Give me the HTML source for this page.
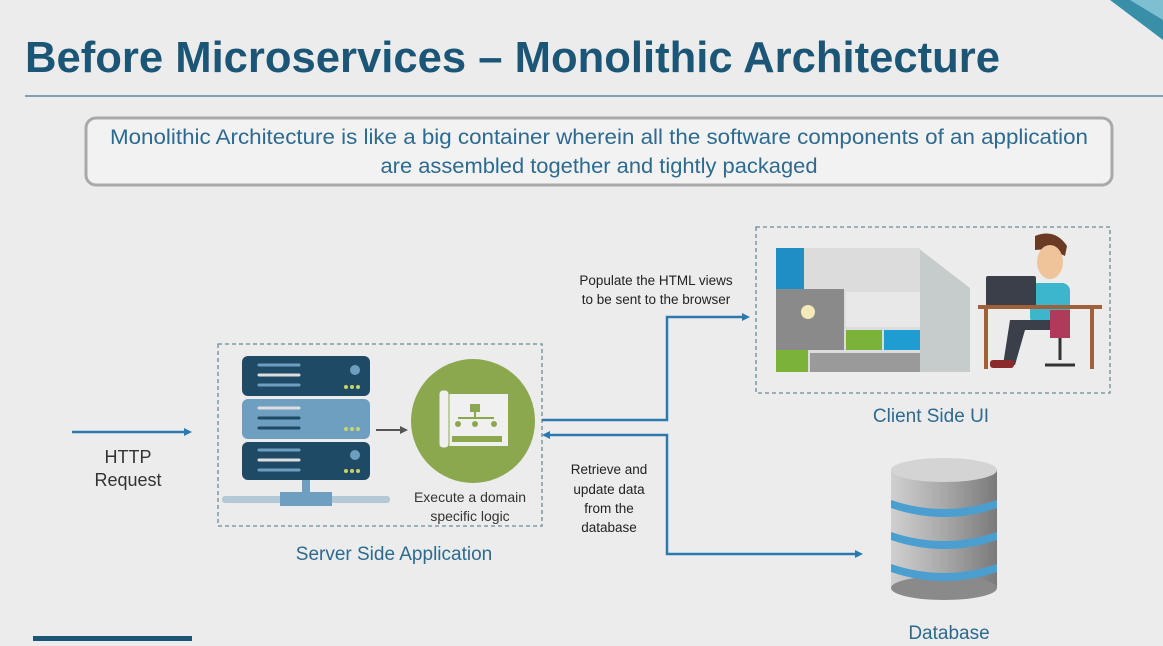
<!DOCTYPE html>
<html><head><meta charset="utf-8"><style>
body{margin:0;width:1163px;height:641px;overflow:hidden;background:#ececec;font-family:"Liberation Sans","DejaVu Sans",sans-serif}
</style></head><body>
<svg width="1163" height="641" viewBox="0 0 1163 641" xmlns="http://www.w3.org/2000/svg">
<defs><linearGradient id="g" x1="0" x2="1"><stop offset="0" stop-color="#d0d0d0"/><stop offset="0.5" stop-color="#a8a8a8"/><stop offset="1" stop-color="#7a7a7a"/></linearGradient></defs>
<rect width="1163" height="641" fill="#ececec"/>
<polygon points="1110,0 1163,0 1163,40" fill="#3a8fa8"/>
<polygon points="1130,0 1163,0 1163,20" fill="#7ec0d2"/>
<text x="25" y="72" font-size="44" font-weight="bold" fill="#1c5677" textLength="975" lengthAdjust="spacingAndGlyphs">Before Microservices – Monolithic Architecture</text>
<line x1="25" y1="96" x2="1163" y2="96" stroke="#5a86a8" stroke-width="1.5"/>
<rect x="86" y="118" width="1026" height="67" rx="10" fill="#f2f2f2" stroke="#a9a9a9" stroke-width="3"/>
<text x="599" y="144" font-size="21" fill="#2c6a90" text-anchor="middle" textLength="978" lengthAdjust="spacingAndGlyphs">Monolithic Architecture is like a big container wherein all the software components of an application</text>
<text x="599" y="173" font-size="21" fill="#2c6a90" text-anchor="middle" textLength="437" lengthAdjust="spacingAndGlyphs">are assembled together and tightly packaged</text>

<line x1="72" y1="432" x2="185" y2="432" stroke="#2a7ab0" stroke-width="2.5"/>
<polygon points="192,432 184,428 184,436" fill="#2a7ab0"/>
<text x="128" y="463" font-size="18" fill="#333" text-anchor="middle">HTTP</text>
<text x="128" y="486" font-size="18" fill="#333" text-anchor="middle">Request</text>

<rect x="218" y="344" width="324" height="182" fill="none" stroke="#6a8a96" stroke-width="1.3" stroke-dasharray="4,3"/>
<rect x="242" y="356" width="128" height="40" rx="6" fill="#1f4a66"/>
<rect x="242" y="399" width="128" height="40" rx="6" fill="#6e9fc1"/>
<rect x="242" y="442" width="128" height="38" rx="6" fill="#1f4a66"/>
<g stroke-width="3" stroke-linecap="round">
<line x1="259" y1="365" x2="299" y2="365" stroke="#6e9fc1"/><line x1="259" y1="375" x2="299" y2="375" stroke="#ddd"/><line x1="259" y1="385" x2="299" y2="385" stroke="#6e9fc1"/>
<line x1="259" y1="408" x2="299" y2="408" stroke="#ddd"/><line x1="259" y1="418" x2="299" y2="418" stroke="#1f4a66"/><line x1="259" y1="428" x2="299" y2="428" stroke="#1f4a66"/>
<line x1="259" y1="450" x2="299" y2="450" stroke="#6e9fc1"/><line x1="259" y1="460" x2="299" y2="460" stroke="#ddd"/><line x1="259" y1="470" x2="299" y2="470" stroke="#6e9fc1"/>
</g>
<circle cx="355" cy="370" r="5" fill="#6e9fc1"/><circle cx="355" cy="455" r="5" fill="#6e9fc1"/>
<g fill="#c9d36a"><circle cx="346" cy="387" r="2"/><circle cx="352" cy="387" r="2"/><circle cx="358" cy="387" r="2"/><circle cx="346" cy="429" r="2"/><circle cx="352" cy="429" r="2"/><circle cx="358" cy="429" r="2"/><circle cx="346" cy="471" r="2"/><circle cx="352" cy="471" r="2"/><circle cx="358" cy="471" r="2"/></g>
<rect x="302" y="480" width="8" height="14" fill="#6e9fc1"/>
<rect x="222" y="496" width="168" height="7" rx="3" fill="#b5c8d6"/>
<rect x="280" y="492" width="52" height="14" fill="#6e9fc1"/>
<line x1="376" y1="430" x2="400" y2="430" stroke="#555" stroke-width="2"/>
<polygon points="408,430 400,426 400,434" fill="#555"/>
<circle cx="473" cy="421" r="62" fill="#8ba84e"/>
<rect x="448" y="394" width="60" height="52" fill="#f0f0f0"/>
<rect x="439" y="390" width="10" height="58" rx="4" fill="#f0f0f0" stroke="#8ba84e" stroke-width="1"/>
<rect x="470" y="404" width="10" height="8" fill="#8ba84e"/>
<line x1="475" y1="412" x2="475" y2="418" stroke="#8ba84e" stroke-width="2"/>
<line x1="458" y1="418" x2="494" y2="418" stroke="#8ba84e" stroke-width="2"/>
<circle cx="458" cy="424" r="3" fill="#8ba84e"/><circle cx="475" cy="424" r="3" fill="#8ba84e"/><circle cx="494" cy="424" r="3" fill="#8ba84e"/>
<rect x="452" y="436" width="50" height="6" fill="#8ba84e"/>
<text x="470" y="502" font-size="14" fill="#333" text-anchor="middle">Execute a domain</text>
<text x="470" y="521" font-size="14" fill="#333" text-anchor="middle">specific logic</text>
<text x="394" y="560" font-size="19" fill="#2c6a90" text-anchor="middle">Server Side Application</text>

<polyline points="542,420 667,420 667,317 742,317" fill="none" stroke="#2a7ab0" stroke-width="2.5"/>
<polygon points="750,317 742,313 742,321" fill="#2a7ab0"/>
<polyline points="550,435 667,435 667,554 855,554" fill="none" stroke="#2a7ab0" stroke-width="2.5"/>
<polygon points="542,435 550,431 550,439" fill="#2a7ab0"/>
<polygon points="863,554 855,550 855,558" fill="#2a7ab0"/>
<text x="656" y="285" font-size="13.5" fill="#222" text-anchor="middle">Populate the HTML views</text>
<text x="656" y="304" font-size="13.5" fill="#222" text-anchor="middle">to be sent to the browser</text>
<text x="609" y="474" font-size="13.5" fill="#222" text-anchor="middle">Retrieve and</text>
<text x="609" y="494" font-size="13.5" fill="#222" text-anchor="middle">update data</text>
<text x="609" y="513" font-size="13.5" fill="#222" text-anchor="middle">from the</text>
<text x="609" y="532" font-size="13.5" fill="#222" text-anchor="middle">database</text>

<rect x="756" y="227" width="354" height="166" fill="none" stroke="#6a8a96" stroke-width="1.3" stroke-dasharray="4,3"/>
<polygon points="918,248 970,288 970,372 918,372" fill="#c6cccc"/>
<rect x="776" y="248" width="144" height="124" fill="#dcdcdc"/>
<rect x="776" y="248" width="28" height="41" fill="#1f8ec4"/>
<rect x="776" y="289" width="68" height="61" fill="#8a8a8a"/>
<circle cx="808" cy="312" r="7" fill="#f4e9b8"/>
<rect x="846" y="292" width="74" height="35" fill="#e8e8e8"/>
<rect x="846" y="330" width="36" height="20" fill="#7ab23a"/>
<rect x="884" y="330" width="36" height="20" fill="#1f9cd2"/>
<rect x="776" y="350" width="32" height="22" fill="#7ab23a"/>
<rect x="810" y="353" width="110" height="19" fill="#9a9a9a"/>
<path d="M1035 236 q20 -8 32 10 l-2 10 q-15 -8 -30 -6 z" fill="#6a3a24"/>
<ellipse cx="1050" cy="262" rx="13" ry="17" fill="#f0c49a"/>
<rect x="1030" y="283" width="40" height="42" rx="8" fill="#3bb6cc"/>
<rect x="986" y="276" width="50" height="30" rx="2" fill="#3a3f4a"/>
<rect x="978" y="305" width="124" height="4" fill="#a0613a"/>
<rect x="984" y="309" width="4" height="60" fill="#a0613a"/><rect x="1090" y="309" width="4" height="60" fill="#a0613a"/>
<path d="M1010 320 h55 v10 h-40 l-10 35 h-12 z" fill="#3a3f4a"/>
<rect x="1050" y="310" width="20" height="28" fill="#b03a5a"/>
<line x1="1060" y1="338" x2="1060" y2="360" stroke="#333" stroke-width="3"/>
<line x1="1045" y1="365" x2="1075" y2="365" stroke="#333" stroke-width="3"/>
<rect x="990" y="360" width="24" height="8" rx="3" fill="#8a2a2a"/>
<text x="931" y="422" font-size="19" fill="#2c6a90" text-anchor="middle">Client Side UI</text>

<rect x="891" y="470" width="106" height="118" fill="url(#g)"/>
<ellipse cx="944" cy="588" rx="53" ry="12" fill="#8a8a8a"/>
<path d="M891 500 q53 18 106 0 v8 q-53 18 -106 0z" fill="#4a9fd0"/>
<path d="M891 532 q53 18 106 0 v8 q-53 18 -106 0z" fill="#4a9fd0"/>
<path d="M891 564 q53 18 106 0 v8 q-53 18 -106 0z" fill="#4a9fd0"/>
<ellipse cx="944" cy="470" rx="53" ry="12" fill="#d4d4d4"/>
<text x="949" y="639" font-size="19" fill="#2c6a90" text-anchor="middle">Database</text>
<rect x="33" y="636" width="159" height="5" fill="#1c5677"/>
</svg>
</body></html>
